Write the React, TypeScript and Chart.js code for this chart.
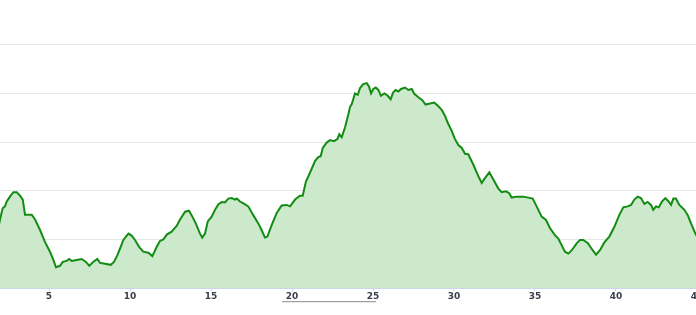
import React, { useEffect, useRef } from "react";
import { Chart, registerables } from "chart.js";

Chart.register(...registerables);

const distanceKm = [
  1.9, 1.975, 2.14, 2.28, 2.39, 2.59, 2.8, 3.01, 3.21, 3.38, 3.52, 3.72, 3.93, 4.14, 4.44, 4.75,
  5.06, 5.27, 5.43, 5.68, 5.85, 6.09, 6.25, 6.4, 6.71, 7.02, 7.28, 7.49, 7.73, 7.98, 8.15, 8.46,
  8.81, 9.01, 9.22, 9.38, 9.59, 9.9, 10.1, 10.31, 10.56, 10.82, 11.13, 11.38, 11.65, 11.85, 12.06,
  12.27, 12.57, 12.88, 13.09, 13.4, 13.64, 13.85, 14.06, 14.32, 14.46, 14.63, 14.8, 15.04, 15.25,
  15.45, 15.66, 15.86, 16.07, 16.28, 16.48, 16.59, 16.79, 17.0, 17.3, 17.61, 17.92, 18.13, 18.33,
  18.48, 18.75, 19.05, 19.36, 19.67, 19.88, 20.19, 20.49, 20.66, 20.86, 21.11, 21.42, 21.62, 21.77,
  21.9, 22.14, 22.35, 22.59, 22.8, 22.92, 23.07, 23.27, 23.48, 23.58, 23.69, 23.89, 24.06, 24.2,
  24.4, 24.61, 24.75, 24.88, 25.02, 25.17, 25.33, 25.49, 25.7, 25.91, 26.09, 26.25, 26.4, 26.56,
  26.73, 26.98, 27.18, 27.39, 27.55, 27.8, 28.04, 28.25, 28.52, 28.78, 28.99, 29.24, 29.44, 29.65,
  29.86, 30.06, 30.27, 30.48, 30.68, 30.88, 31.19, 31.5, 31.71, 31.91, 32.18, 32.43, 32.73, 32.94,
  33.21, 33.41, 33.56, 33.87, 34.28, 34.59, 34.86, 35.1, 35.41, 35.68, 35.93, 36.23, 36.44, 36.65,
  36.85, 37.06, 37.27, 37.57, 37.78, 37.98, 38.25, 38.56, 38.77, 39.01, 39.28, 39.59, 39.9, 40.2,
  40.45, 40.72, 40.93, 41.13, 41.34, 41.54, 41.75, 41.95, 42.16, 42.3, 42.47, 42.64, 42.84, 43.04,
  43.25, 43.4, 43.54, 43.7, 43.91, 44.22, 44.43, 44.63, 44.9, 45.2,
];

const elevation = [
  128, 141, 164, 168, 178, 188, 197, 197, 190, 182, 151, 151, 151, 141, 120, 95,
  75, 58, 43, 46, 54, 56, 60, 56, 58, 60, 54, 46, 54, 60, 52, 50,
  48, 54, 68, 81, 99, 112, 108, 99, 85, 75, 73, 66, 85, 97, 100,
  110, 116, 128, 141, 157, 159, 147, 133, 112, 104, 112, 137, 147, 161,
  172, 177, 176, 184, 185, 182, 184, 178, 174, 168, 150, 133, 119, 104,
  106, 130, 154, 170, 171, 168, 182, 190, 190, 219, 237, 261, 269, 271,
  288, 299, 304, 302, 306, 316, 310, 330, 357, 372, 378, 400, 397, 411,
  419, 421, 414, 400, 409, 412, 407, 395, 400, 395, 388, 402, 407, 404,
  409, 412, 407, 409, 399, 392, 386, 377, 379, 381, 375, 366, 354, 337,
  323, 306, 294, 288, 276, 275, 254, 230, 216, 226, 238, 223, 205, 197,
  199, 195, 186, 188, 188, 186, 184, 168, 147, 140, 123, 109, 102, 88,
  75, 71, 78, 92, 99, 99, 93, 78, 69, 78, 94, 106, 126, 150,
  166, 168, 171, 182, 188, 185, 173, 177, 171, 161, 168, 166, 178, 185,
  178, 171, 184, 184, 171, 161, 150, 133, 112, 95,
];

const xTickValues = [5, 10, 15, 20, 25, 30, 35, 40, 45];
const yGridValues = [0, 100, 200, 300, 400, 500];
const rangeMarker = [19.38, 25.19];

export default function App() {
  const canvasRef = useRef<HTMLCanvasElement | null>(null);

  useEffect(() => {
    document.body.style.margin = "0";
    const canvas = canvasRef.current;
    if (!canvas) return;

    const underlinePlugin = {
      id: "rangeUnderline",
      afterDraw(chart: any) {
        const xs = chart.scales.x;
        const ctx = chart.ctx;
        const y = chart.chartArea.bottom + 13.5;
        ctx.save();
        ctx.strokeStyle = "#8a8a8a";
        ctx.lineWidth = 1;
        ctx.beginPath();
        ctx.moveTo(xs.getPixelForValue(rangeMarker[0]), y);
        ctx.lineTo(xs.getPixelForValue(rangeMarker[1]), y);
        ctx.stroke();
        ctx.restore();
      },
    };

    const chart = new Chart(canvas, {
      type: "line",
      data: {
        datasets: [
          {
            data: distanceKm.map((d, i) => ({ x: d, y: elevation[i] })),
            borderColor: "#138c13",
            borderWidth: 2,
            backgroundColor: "rgba(204,233,204,1)",
            fill: "origin",
            pointRadius: 0,
            tension: 0,
          },
        ],
      },
      options: {
        animation: false,
        responsive: false,
        maintainAspectRatio: false,
        devicePixelRatio: 1,
        layout: { padding: { left: 0, right: 0, top: 0, bottom: 13 } },
        plugins: {
          legend: { display: false },
          tooltip: { enabled: false },
        },
        scales: {
          x: {
            type: "linear",
            min: 1.975,
            max: 46.42,
            afterBuildTicks: (scale: any) => {
              scale.ticks = xTickValues.map((v) => ({ value: v }));
            },
            grid: {
              drawOnChartArea: false,
              drawTicks: true,
              tickLength: 3,
              tickColor: "#ccd6eb",
            },
            border: { display: true, color: "#ccd6eb", width: 1 },
            ticks: {
              padding: 0,
              maxRotation: 0,
              autoSkip: false,
              color: "#3a3f4a",
              font: { family: "DejaVu Sans", size: 9, weight: "bold" },
            },
          },
          y: {
            min: 0,
            max: 591.7,
            afterBuildTicks: (scale: any) => {
              scale.ticks = yGridValues.map((v) => ({ value: v }));
            },
            ticks: { display: false },
            grid: { color: "#e6e6e6", lineWidth: 1, drawTicks: false },
            border: { display: false },
          },
        },
      },
      plugins: [underlinePlugin],
    });

    return () => chart.destroy();
  }, []);

  return (
    <div
      style={{
        position: "fixed",
        left: 0,
        top: 0,
        width: 696,
        height: 315,
        overflow: "hidden",
        background: "#ffffff",
      }}
    >
      <canvas
        ref={canvasRef}
        width={720}
        height={315}
        style={{ display: "block", width: 720, height: 315 }}
      />
    </div>
  );
}
